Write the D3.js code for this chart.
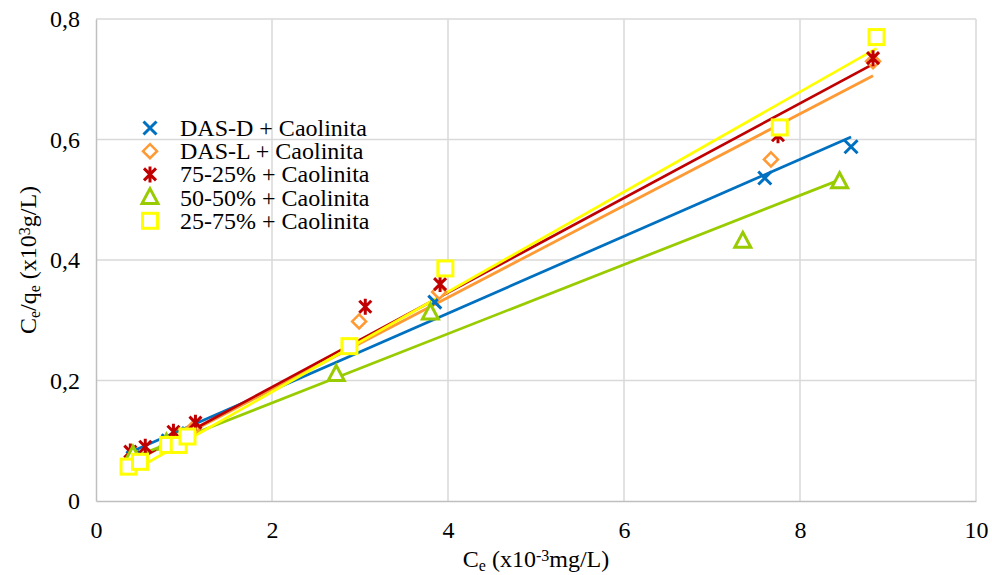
<!DOCTYPE html>
<html>
<head>
<meta charset="utf-8">
<script src="https://cdn.jsdelivr.net/npm/d3@7"></script>
<style>
  body { margin: 0; background: #fff; }
  text { font-family: "Liberation Serif", "Times New Roman", serif; }
</style>
</head>
<body>
<svg id="chart" width="992" height="575"></svg>
<script>
"use strict";

// series names, in drawing order
const seriesNames = ["DAS-D + Caolinita", "DAS-L + Caolinita", "75-25% + Caolinita", "50-50% + Caolinita", "25-75% + Caolinita"];
const seriesColors = ["#0070c0", "#ff9933", "#c00000", "#99cc00", "#ffff00"];
const seriesSymbols = ["x", "diamond", "asterisk", "triangle", "square"];

// Ce values (x10^-3 mg/L) per series
const dasDX = [0.42, 0.82, 1.05, 3.85, 7.6, 8.58];
const dasLX = [0.45, 0.9, 1.1, 2.99, 3.9, 7.67, 8.83];
const mix7525X = [0.39, 0.56, 0.88, 1.13, 3.06, 3.91, 7.75, 8.83];
const mix5050X = [0.42, 0.8, 2.73, 3.8, 7.35, 8.45];
const mix2575X = [0.37, 0.5, 0.82, 0.94, 1.04, 2.88, 3.97, 7.77, 8.87];

// Ce/qe values (x10^3 g/L) per series
const dasDY = [0.072, 0.1, 0.112, 0.33, 0.536, 0.588];
const dasLY = [0.07, 0.1, 0.12, 0.298, 0.347, 0.567, 0.73];
const mix7525Y = [0.082, 0.09, 0.115, 0.13, 0.3225, 0.36, 0.607, 0.735];
const mix5050Y = [0.076, 0.096, 0.21, 0.312, 0.431, 0.53];
const mix2575Y = [0.057, 0.065, 0.093, 0.093, 0.107, 0.257, 0.386, 0.62, 0.77];

// linear trendlines
const trendSlopes = [0.0639, 0.0762, 0.0785, 0.0574, 0.083];
const trendIntercepts = [0.056, 0.033, 0.032, 0.048, 0.015];

const xTicks = [0, 2, 4, 6, 8, 10];
const yTicks = [0, 0.2, 0.4, 0.6, 0.8];

const xs = [dasDX, dasLX, mix7525X, mix5050X, mix2575X];
const ys = [dasDY, dasLY, mix7525Y, mix5050Y, mix2575Y];

const serif = "Liberation Serif, Times New Roman, serif";
const margin = {left: 96, right: 16, top: 19, bottom: 74};
const width = 992, height = 575;

const svg = d3.select("#chart").style("font-family", serif);

const x = d3.scaleLinear().domain([0, 10]).range([margin.left, width - margin.right]);
const y = d3.scaleLinear().domain([0, 0.8]).range([height - margin.bottom, margin.top]);

const fmt = d => d === 0 ? "0" : d3.format(".1f")(d).replace(".", ",");

// gridlines
svg.append("g")
    .selectAll("line")
    .data(xTicks.filter(d => d > 0))
    .join("line")
    .attr("x1", d => x(d)).attr("x2", d => x(d))
    .attr("y1", y(0)).attr("y2", y(0.8))
    .attr("stroke", "#d9d9d9").attr("stroke-width", 1.5);

svg.append("g")
    .selectAll("line")
    .data(yTicks.filter(d => d > 0))
    .join("line")
    .attr("x1", x(0)).attr("x2", x(10))
    .attr("y1", d => y(d)).attr("y2", d => y(d))
    .attr("stroke", "#d9d9d9").attr("stroke-width", 1.5);

// axes
const xAxis = svg.append("g")
    .attr("transform", `translate(0,${y(0)})`)
    .call(d3.axisBottom(x).tickValues(xTicks).tickFormat(d => d).tickSize(0).tickPadding(20));
const yAxis = svg.append("g")
    .attr("transform", `translate(${x(0)},0)`)
    .call(d3.axisLeft(y).tickValues(yTicks).tickFormat(fmt).tickSize(0).tickPadding(16));

[xAxis, yAxis].forEach(a => {
    a.attr("font-family", serif);
    a.select(".domain").attr("stroke", "#bfbfbf").attr("stroke-width", 1.5);
    a.selectAll("text")
        .style("font-family", serif)
        .style("font-size", "24px")
        .attr("fill", "#000");
});

// axis titles
const xTitle = svg.append("text")
    .attr("x", (x(0) + x(10)) / 2)
    .attr("y", 567)
    .attr("text-anchor", "middle")
    .style("font-family", serif)
    .style("font-size", "24px");
xTitle.append("tspan").text("C");
xTitle.append("tspan").attr("baseline-shift", "-25%").style("font-size", "16px").text("e");
xTitle.append("tspan").text(" (x10");
xTitle.append("tspan").attr("baseline-shift", "40%").style("font-size", "16px").text("-3");
xTitle.append("tspan").text("mg/L)");

const yTitle = svg.append("text")
    .attr("transform", `translate(36,${(y(0) + y(0.8)) / 2}) rotate(-90)`)
    .attr("text-anchor", "middle")
    .style("font-family", serif)
    .style("font-size", "24px");
yTitle.append("tspan").text("C");
yTitle.append("tspan").attr("baseline-shift", "-25%").style("font-size", "16px").text("e");
yTitle.append("tspan").text("/q");
yTitle.append("tspan").attr("baseline-shift", "-25%").style("font-size", "16px").text("e");
yTitle.append("tspan").text(" (x10");
yTitle.append("tspan").attr("baseline-shift", "40%").style("font-size", "16px").text("3");
yTitle.append("tspan").text("g/L)");

// trendlines
seriesNames.forEach((name, i) => {
    const x0 = d3.min(xs[i]), x1 = d3.max(xs[i]);
    svg.append("line")
        .attr("x1", x(x0)).attr("y1", y(trendSlopes[i] * x0 + trendIntercepts[i]))
        .attr("x2", x(x1)).attr("y2", y(trendSlopes[i] * x1 + trendIntercepts[i]))
        .attr("stroke", seriesColors[i])
        .attr("stroke-width", 2.75);
});

// marker drawing
function drawMarker(g, sym, color) {
    const sw = 3;
    if (sym === "x") {
        g.append("path").attr("d", "M-6.5,-6.5L6.5,6.5M-6.5,6.5L6.5,-6.5")
            .attr("stroke", color).attr("stroke-width", sw).attr("fill", "none");
    } else if (sym === "asterisk") {
        g.append("path").attr("d", "M-6,-6L6,6M-6,6L6,-6M0,-8L0,8")
            .attr("stroke", color).attr("stroke-width", sw).attr("fill", "none");
    } else if (sym === "diamond") {
        g.append("path").attr("d", "M0,-7L7,0L0,7L-7,0Z")
            .attr("stroke", color).attr("stroke-width", 2.5).attr("fill", "#fff");
    } else if (sym === "triangle") {
        g.append("path").attr("d", "M0,-9L8,6L-8,6Z")
            .attr("stroke", color).attr("stroke-width", sw).attr("fill", "#fff");
    } else if (sym === "square") {
        g.append("rect").attr("x", -7.5).attr("y", -7.5).attr("width", 15).attr("height", 15)
            .attr("stroke", color).attr("stroke-width", sw).attr("fill", "#fff");
    }
}

// markers
seriesNames.forEach((name, i) => {
    const pts = d3.zip(xs[i], ys[i]);
    svg.append("g")
        .selectAll("g")
        .data(pts)
        .join("g")
        .attr("transform", d => `translate(${x(d[0])},${y(d[1])})`)
        .each(function() { drawMarker(d3.select(this), seriesSymbols[i], seriesColors[i]); });
});

// legend
const legend = svg.append("g").attr("transform", "translate(150,128)");
seriesNames.forEach((name, i) => {
    const row = legend.append("g").attr("transform", `translate(0,${i * 23.2})`);
    drawMarker(row, seriesSymbols[i], seriesColors[i]);
    row.append("text")
        .attr("x", 30)
        .attr("y", 8)
        .style("font-family", serif)
        .style("font-size", "24px")
        .text(name);
});
</script>
</body>
</html>
